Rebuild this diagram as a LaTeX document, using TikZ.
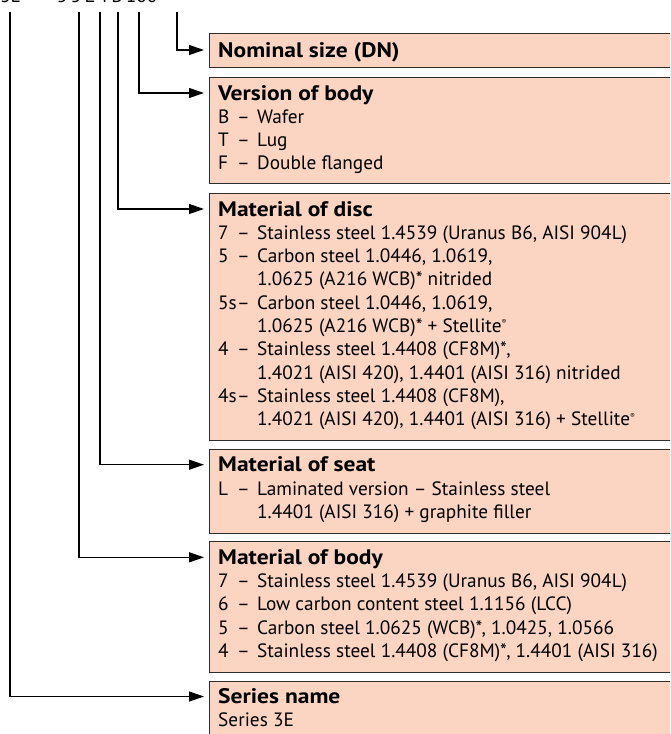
\documentclass[tikz,border=0pt]{standalone}
\usepackage{fontspec}
\setmainfont{PT Sans}
\newfontfamily\ttlfont[FakeStretch=1.12]{PT Sans}
\usetikzlibrary{arrows.meta}
\definecolor{boxfill}{RGB}{252,212,194}
\definecolor{boxline}{RGB}{45,45,45}
\tikzset{
  box/.style={draw=boxline, fill=boxfill, line width=1.1pt, rectangle, anchor=north west, minimum width=500pt, inner sep=0pt},
  ttl/.style={anchor=base west, inner sep=0pt, font=\ttlfont\fontsize{21}{23.3}\selectfont\bfseries, text height=14pt, text depth=0pt},
  lst/.style={anchor=base west, inner sep=0pt, font=\fontsize{19.3}{23.3}\selectfont},
  conn/.style={line width=1.2pt, -{Triangle[length=15pt,width=10pt]}, shorten >=5pt},
}
\newcommand{\reg}{\textsuperscript{\scriptsize ®}}
\begin{document}
\begin{tikzpicture}[x=1pt,y=-1pt]
\useasboundingbox (0,0) rectangle (670,734);
\clip (0,0) rectangle (670,734);
% code row (cut off at top)
\node[lst, anchor=base west] (code) at (0,2.5) {3E\hspace{36pt}5\,5\,L\,4\,B\,100};
% boxes
\node[box, minimum height=34pt]  (dn)   at (209,33)  {};
\node[box, minimum height=106pt] (ver)  at (209,77)  {};
\node[box, minimum height=247pt] (disc) at (209,193) {};
\node[box, minimum height=84pt]  (seat) at (209,449) {};
\node[box, minimum height=131pt] (body) at (209,541) {};
\node[box, minimum height=80pt]  (ser)  at (209,681) {};
% titles
\node[ttl] (dnt)   at (218,57)    {Nominal size (DN)};
\node[ttl] (vert)  at (218,100)   {Version of body};
\node[ttl] (disct) at (218,216)   {Material of disc};
\node[ttl] (seatt) at (218,471.7) {Material of seat};
\node[ttl] (bodyt) at (218,564.3) {Material of body};
\node[ttl] (sert)  at (218,703.5) {Series name};
% lists
\node[lst] (verl) at (218,123.3) {\begin{tabular}[t]{@{}p{19pt}@{}p{20pt}@{}l@{}}
B & – & Wafer\\
T & – & Lug\\
F & – & Double flanged
\end{tabular}};
\node[lst] (discl) at (218,239.3) {\begin{tabular}[t]{@{}p{19pt}@{}p{20pt}@{}l@{}}
7 & – & Stainless steel 1.4539 (Uranus B6, AISI 904L)\\
5 & – & Carbon steel 1.0446, 1.0619,\\
 & & 1.0625 (A216 WCB)* nitrided\\
5s & – & Carbon steel 1.0446, 1.0619,\\
 & & 1.0625 (A216 WCB)* + Stellite\reg\\
4 & – & Stainless steel 1.4408 (CF8M)*,\\
 & & 1.4021 (AISI 420), 1.4401 (AISI 316) nitrided\\
4s & – & Stainless steel 1.4408 (CF8M),\\
 & & 1.4021 (AISI 420), 1.4401 (AISI 316) + Stellite\reg
\end{tabular}};
\node[lst] (seatl) at (218,495) {\begin{tabular}[t]{@{}p{19pt}@{}p{20pt}@{}l@{}}
L & – & Laminated version – Stainless steel\\
 & & 1.4401 (AISI 316) + graphite filler
\end{tabular}};
\node[lst] (bodyl) at (218,587.6) {\begin{tabular}[t]{@{}p{19pt}@{}p{20pt}@{}l@{}}
7 & – & Stainless steel 1.4539 (Uranus B6, AISI 904L)\\
6 & – & Low carbon content steel 1.1156 (LCC)\\
5 & – & Carbon steel 1.0625 (WCB)*, 1.0425, 1.0566\\
4 & – & Stainless steel 1.4408 (CF8M)*, 1.4401 (AISI 316)
\end{tabular}};
\node[lst] (serl) at (218,726.8) {Series 3E};
% line starts
\coordinate (cser)  at (10,12);
\coordinate (cbody) at (79,12);
\coordinate (cseat) at (100,12);
\coordinate (cdisc) at (118,12);
\coordinate (cver)  at (139,12);
\coordinate (cdn)   at (177,12);
% connectors
\draw[conn] (cdn)   |- (dnt.west -| dn.west);
\draw[conn] (cver)  |- (vert.west -| ver.west);
\draw[conn] (cdisc) |- (disct.west -| disc.west);
\draw[conn] (cseat) |- (seatt.west -| seat.west);
\draw[conn] (cbody) |- (bodyt.west -| body.west);
\draw[conn] (cser)  |- (sert.west -| ser.west);
\end{tikzpicture}
\end{document}
